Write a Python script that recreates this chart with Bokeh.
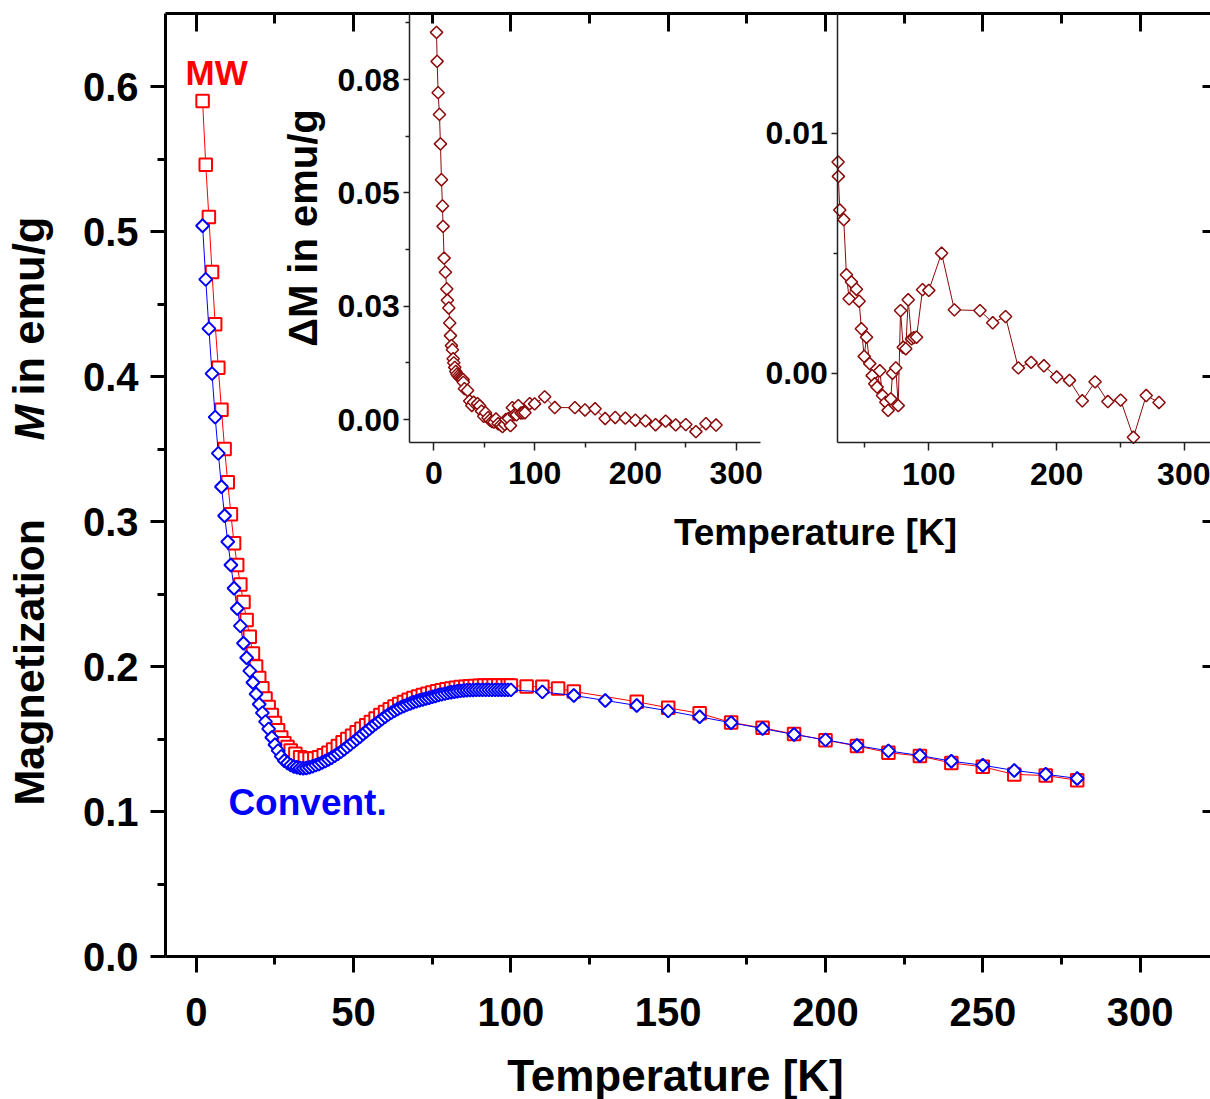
from math import pi
from bokeh.plotting import figure
from bokeh.models import LinearAxis, FixedTicker, Label, Range1d, PrintfTickFormatter
from bokeh.embed import file_html
from bokeh.resources import INLINE

FONT = "Liberation Sans"
W, H = 1210, 1099

# ---------------- data ----------------
# Microwave (MW) sample: temperature [K] and magnetization [emu/g]
T_mw = [2, 3, 4, 5, 6, 7, 8, 9, 10, 11, 12, 13, 14, 15, 16, 17, 18, 19, 20, 21,
        22, 23, 24, 25, 26, 27, 28, 29, 30,
        31.5, 33, 34.5, 36, 37.5, 39, 40.5, 42, 43.5, 45, 46.5, 48, 49.5, 51, 52.5,
        54, 55.5, 57, 58.5, 60, 61.5, 63, 64.5, 66, 67.5, 69, 70.5, 72, 73.5, 75,
        76.5, 78, 79.5, 81, 82.5, 84, 85.5, 87, 88.5, 90, 91.5, 93, 94.5, 96, 97.5, 99,
        100, 105, 110, 115, 120, 140, 150, 160, 170, 180, 190, 200, 210, 220, 230,
        240, 250, 260, 270, 280]
M_mw = [0.590, 0.546, 0.510, 0.472, 0.436, 0.406, 0.377, 0.350, 0.327, 0.305,
        0.285, 0.270, 0.2565, 0.2445, 0.232, 0.2205, 0.209, 0.200, 0.192, 0.185,
        0.178, 0.172, 0.1665, 0.161, 0.156, 0.151, 0.147, 0.1445, 0.142,
        0.1398, 0.1375, 0.1366, 0.1363, 0.1366, 0.1375, 0.1388, 0.1405, 0.1428, 0.1452,
        0.1477, 0.1500, 0.1523, 0.1546, 0.1570, 0.1594, 0.1618, 0.1642, 0.1665, 0.1687,
        0.1706, 0.1724, 0.1741, 0.1756, 0.1770, 0.1782, 0.1793, 0.1803, 0.1812, 0.1821,
        0.1829, 0.1837, 0.1843, 0.1849, 0.1854, 0.1858, 0.1861, 0.1864, 0.1866, 0.1868,
        0.1869, 0.1869, 0.1869, 0.1869, 0.1869, 0.1869,
        0.1869, 0.1862, 0.1860, 0.1848, 0.1828, 0.1757, 0.1715, 0.1677, 0.1614, 0.1577,
        0.1534, 0.1492, 0.1452, 0.1406, 0.1382, 0.1335, 0.1308, 0.1256, 0.1248, 0.1216]

# Conventional sample
T_cv = [2, 3, 4, 5, 6, 7, 8, 9, 10, 11, 12, 13, 14, 15, 16, 17, 18, 19, 20, 21,
        22, 23, 24, 25, 26, 27, 28, 29, 30, 31, 32, 33, 34, 35, 36, 37, 38, 39, 40,
        41, 42, 43, 44, 45, 46, 47, 48, 49, 50, 51, 52, 53, 54, 55, 56, 57, 58, 59, 60,
        61, 62, 63, 64, 65, 66, 67, 68, 69, 70, 71, 72, 73, 74, 75, 76, 77, 78, 79, 80,
        81, 82, 83, 84, 85, 86, 87, 88, 89, 90, 91, 92, 93, 94, 95, 96, 97, 98, 99, 100,
        110, 120, 130, 140, 150, 160, 170, 180, 190, 200, 210, 220, 230, 240, 250, 260,
        270, 280]
M_cv = [0.504, 0.467, 0.433, 0.402, 0.372, 0.347, 0.324, 0.304, 0.286, 0.270,
        0.254, 0.240, 0.228, 0.216, 0.206, 0.197, 0.189, 0.181, 0.174, 0.168,
        0.162, 0.157, 0.151, 0.146, 0.142, 0.138, 0.135, 0.1335, 0.132,
        0.1310, 0.1305, 0.1300, 0.1298, 0.1300, 0.1305, 0.1312, 0.1320, 0.1328, 0.1338,
        0.1348, 0.1359, 0.1371, 0.1384, 0.1398, 0.1413, 0.1429, 0.1446, 0.1463, 0.1480,
        0.1498, 0.1516, 0.1534, 0.1552, 0.1570, 0.1588, 0.1605, 0.1621, 0.1637, 0.1653,
        0.1668, 0.1682, 0.1695, 0.1707, 0.1718, 0.1728, 0.1737, 0.1745, 0.1753, 0.1760,
        0.1767, 0.1773, 0.1779, 0.1785, 0.1791, 0.1797, 0.1803, 0.1808, 0.1813, 0.1818,
        0.1822, 0.1826, 0.1829, 0.1832, 0.1834, 0.1836, 0.1837, 0.1838, 0.1839, 0.1839,
        0.1839, 0.1839, 0.1839, 0.1839, 0.1839, 0.1839, 0.1839, 0.1839, 0.1839, 0.1839,
        0.1825, 0.1800, 0.1766, 0.1731, 0.1694, 0.1653, 0.1612, 0.1572, 0.1531, 0.1494,
        0.1455, 0.1418, 0.1386, 0.1347, 0.1319, 0.1283, 0.1257, 0.1228]

# Difference Delta M = M(MW) - M(conv) (insets)
T_dm = [2.7, 3.3, 4.3, 5.6, 6.6, 7.6, 8.6, 9.2, 10.2, 11.5, 12.9, 13.5, 14.9, 15.8,
        16.5, 17.5, 18.5, 19.2, 19.8, 20.8, 21.8, 23.0, 24.3, 25.5, 26.8, 28.0, 29.1,
        29.3, 30.4, 33.5, 35.6, 37.7, 39.5, 43.4, 45.5, 47.3, 49.5, 51.3, 53.8, 55.7,
        57.7, 59.6, 61.7, 63.8, 66.4, 68.2, 70.3, 71.6, 74.2, 76.1, 77.9, 80.0, 82.0,
        83.9, 86.5, 88.3, 90.4, 95.1, 100, 110, 120, 140, 150, 160, 170, 180, 190,
        200, 210, 220, 230, 240, 250, 260, 270, 280]
dM = [0.0854, 0.0790, 0.0721, 0.0673, 0.0608, 0.0529, 0.0471, 0.0426, 0.0356, 0.0325,
      0.0288, 0.0263, 0.0246, 0.0213, 0.0185, 0.0163, 0.0154, 0.0134, 0.0125, 0.0115,
      0.0106, 0.0100, 0.0096, 0.0093, 0.0091, 0.0090, 0.0088, 0.0082, 0.0068, 0.0064,
      0.0041, 0.0031, 0.0038, 0.0035, 0.0030, 0.00185, 0.0007, 0.0015, 0.0004, -0.0001,
      -0.00044, -0.00058, 0.0001, -0.00093, -0.00121, -0.00155, -0.00107, 0.0000,
      0.00022, -0.00135, 0.00261, 0.00108, 0.00102, 0.00306, 0.00143, 0.00148, 0.0015,
      0.00348, 0.00345, 0.0050, 0.00264, 0.00261, 0.0021, 0.00236, 0.00022, 0.00045,
      0.00031, -0.00016, -0.0003, -0.00115, -0.00036, -0.00118, -0.00112, -0.00267,
      -0.00093, -0.00122]

# tick positions / labels
X_TICKS = [0, 50, 100, 150, 200, 250, 300]
X_MINOR = [25, 75, 125, 175, 225, 275]
Y_TICKS = [0.0, 0.1, 0.2, 0.3, 0.4, 0.5, 0.6]
Y_MINOR = [0.05, 0.15, 0.25, 0.35, 0.45, 0.55]
I1X_TICKS = [0, 100, 200, 300]
I2X_TICKS = [100, 200, 300]
IX_MINOR = [50, 150, 250]
I1_TICKS = [0.0, 0.025, 0.05, 0.075]
I1_MINOR = [0.0125, 0.0375, 0.0625, 0.0875]
I1_LABELS = ["0.00", "0.03", "0.05", "0.08"]
I2_TICKS = [0.0, 0.01]
I2_MINOR = [0.005]

# ---------------- geometry (page pixels) ----------------
# The plotting frame covers the whole canvas; all axes are placed with
# fixed_location so that nothing (labels, titles) is clipped.
AX_L, AX_R, AX_T, AX_B = 165, 1210, 13, 956     # main axes box
MX0, MXK = 195.8, 3.146                          # main x: pixel of T=0, px per K
MY0, MYK = 956.0, 1450.0                         # main y: pixel of M=0, px per emu/g
IN1_XS = (433.3, 1.008)                          # inset 1: pixel of 0, px per unit
IN1_YS = (419.0, 4533.0)
IN2_XS = (800.4, 1.279)                          # inset 2
IN2_YS = (372.7, 24000.0)


def xr_full(x0, k):
    return Range1d((0 - x0) / k, (W - x0) / k)


def yr_full(y0, k):
    return Range1d((y0 - H) / k, (y0 - 0) / k)


MAIN_X = ((AX_L - MX0) / MXK, (AX_R - MX0) / MXK)
MAIN_Y = ((MY0 - AX_B) / MYK, (MY0 - AX_T) / MYK)
IN1_X = (-23.8, 324.1)
IN1_Y = (-0.0050, 0.0896)
IN2_X = (28.85, 320.2)
IN2_Y = (-0.0029, 0.0150)

RED = "#FF0000"
BLUE = "#0000FF"
DRED = "#8B0A0A"

p = figure(width=W, height=H, x_range=xr_full(MX0, MXK), y_range=yr_full(MY0, MYK),
           output_backend="svg", toolbar_location=None,
           x_axis_location=None, y_axis_location=None,
           min_border_left=0, min_border_right=0, min_border_top=0, min_border_bottom=0)
p.grid.visible = False
p.outline_line_color = None
p.background_fill_color = "white"
p.border_fill_color = "white"

p.extra_x_ranges = {"i1x": xr_full(*IN1_XS), "i2x": xr_full(*IN2_XS)}
p.extra_y_ranges = {"i1y": yr_full(*IN1_YS), "i2y": yr_full(*IN2_YS)}


def add_axis(side, loc, bounds, ticks, minor, lw, color, mj_out, mn_out, mj_in, mn_in,
             fs, standoff, labels=True, xr="default", yr="default"):
    ax = LinearAxis(fixed_location=loc, bounds=bounds, x_range_name=xr, y_range_name=yr,
                    ticker=FixedTicker(ticks=ticks, minor_ticks=minor))
    ax.axis_line_width = lw
    ax.axis_line_color = color
    ax.major_tick_line_width = lw
    ax.major_tick_line_color = color
    ax.minor_tick_line_width = lw
    ax.minor_tick_line_color = color
    ax.major_tick_out = mj_out
    ax.major_tick_in = mj_in
    ax.minor_tick_out = mn_out
    ax.minor_tick_in = mn_in
    ax.major_label_text_font = FONT
    ax.major_label_text_font_style = "bold"
    ax.major_label_text_font_size = f"{fs}px"
    ax.major_label_text_color = "black" if labels else None
    ax.major_label_standoff = standoff
    p.add_layout(ax, side)
    return ax


# ---- main axes ----
add_axis("below", MAIN_Y[0], MAIN_X, X_TICKS, X_MINOR, 3, "black", 16, 8, 0, 0, 40, 25)
ya = add_axis("left", MAIN_X[0], MAIN_Y, Y_TICKS, Y_MINOR, 3, "black", 15, 8, 0, 0, 40, 12)
ya.formatter = PrintfTickFormatter(format="%.1f")
add_axis("above", MAIN_Y[1], MAIN_X, X_TICKS, X_MINOR, 3, "black", 0, 0, 18, 10, 20, 0,
         labels=False)
ra = add_axis("right", MAIN_X[1], MAIN_Y, Y_TICKS, [], 3, "black", 0, 0, 8, 0, 20, 0,
              labels=False)
ra.axis_line_alpha = 0

# ---- inset axes ----
a = add_axis("below", IN1_Y[0], IN1_X, I1X_TICKS, IX_MINOR, 1.5, "#222222", 8, 5, 0, 0,
             32, 12, xr="i1x", yr="i1y")
a = add_axis("left", IN1_X[0], IN1_Y, I1_TICKS, I1_MINOR, 1.5, "#222222", 6, 4, 0, 0,
             32, 4, xr="i1x", yr="i1y")
a.major_label_overrides = dict(zip(I1_TICKS, I1_LABELS))
a.axis_label = "\u0394M in emu/g"
a.axis_label_text_font = FONT
a.axis_label_text_font_style = "bold"
a.axis_label_text_font_size = "40px"
a.axis_label_text_color = "black"
a.axis_label_standoff = 9

add_axis("below", IN2_Y[0], IN2_X, I2X_TICKS, IX_MINOR, 1.5, "#222222", 8, 5, 0, 0,
         32, 12, xr="i2x", yr="i2y")
a = add_axis("left", IN2_X[0], IN2_Y, I2_TICKS, I2_MINOR, 1.5, "#222222", 6, 4, 0, 0,
             32, 4, xr="i2x", yr="i2y")
a.formatter = PrintfTickFormatter(format="%.2f")

# ---- main data ----
p.line(T_mw, M_mw, line_color=RED, line_width=1)
p.scatter(T_mw, M_mw, marker="square", size=12.5, line_color=RED, line_width=2,
          fill_color="white")
p.line(T_cv, M_cv, line_color=BLUE, line_width=1)
p.scatter(T_cv, M_cv, marker="square", angle=pi / 4, size=9.2, line_color=BLUE,
          line_width=2, fill_color="white")

# ---- inset data ----
p.line(T_dm, dM, line_color=DRED, line_width=1, x_range_name="i1x", y_range_name="i1y")
p.scatter(T_dm, dM, marker="square", angle=pi / 4, size=8.7, line_color=DRED,
          line_width=1.5, fill_color="white", x_range_name="i1x", y_range_name="i1y")

vis = [i for i, (t, d) in enumerate(zip(T_dm, dM))
       if IN2_X[0] <= t <= IN2_X[1] and IN2_Y[0] <= d <= IN2_Y[1]]
T2 = [T_dm[i] for i in vis]
d2 = [dM[i] for i in vis]
p.line(T2, d2, line_color=DRED, line_width=1, x_range_name="i2x", y_range_name="i2y")
p.scatter(T2, d2, marker="square", angle=pi / 4, size=8.7, line_color=DRED,
          line_width=1.5, fill_color="white", x_range_name="i2x", y_range_name="i2y")


def lab(text, x, y, size, color="black", align="left", angle=0, fstyle="bold"):
    p.add_layout(Label(x=x, y=y, text=text, text_font=FONT, text_font_style=fstyle,
                       text_font_size=f"{size}px", text_color=color, text_align=align,
                       text_baseline="alphabetic", angle=angle))


lab("MW", -3.4, 0.6097, 35, RED)
lab("Convent.", 10.2, 0.1065, 37, BLUE)
lab("Temperature [K]", 196.8, 0.2924, 37, align="center")
lab("Temperature [K]", 152.3, -0.0820, 44, align="center")
lab("Magnetization", -53.1, 0.1041, 43, angle=pi / 2)
lab("M", -53.1, 0.3559, 43, angle=pi / 2, fstyle="bold italic")
lab("in emu/g", -53.1, 0.3869, 43.5, angle=pi / 2)

open("out.html", "w").write(file_html(p, INLINE))
